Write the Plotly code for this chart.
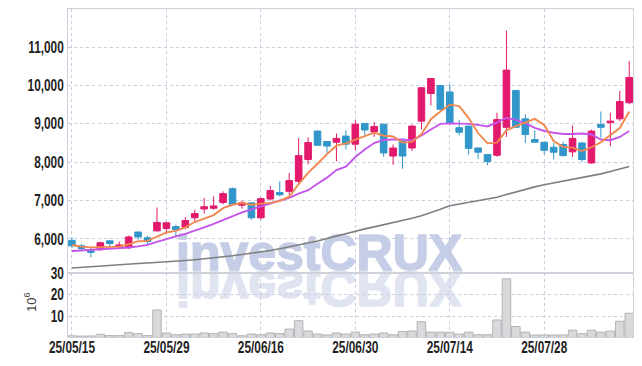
import plotly.graph_objects as go

# ---------------- data ----------------
dates = [
    "2025-05-15", "2025-05-16", "2025-05-19", "2025-05-20", "2025-05-21", "2025-05-22", "2025-05-23",
    "2025-05-26", "2025-05-27", "2025-05-28", "2025-05-29", "2025-05-30", "2025-06-02", "2025-06-04",
    "2025-06-05", "2025-06-09", "2025-06-10", "2025-06-11", "2025-06-12", "2025-06-13", "2025-06-16",
    "2025-06-17", "2025-06-18", "2025-06-19", "2025-06-20", "2025-06-23", "2025-06-24", "2025-06-25",
    "2025-06-26", "2025-06-27", "2025-06-30", "2025-07-01", "2025-07-02", "2025-07-03", "2025-07-04",
    "2025-07-07", "2025-07-08", "2025-07-09", "2025-07-10", "2025-07-11", "2025-07-14", "2025-07-15",
    "2025-07-16", "2025-07-17", "2025-07-18", "2025-07-21", "2025-07-22", "2025-07-23", "2025-07-24",
    "2025-07-25", "2025-07-28", "2025-07-29", "2025-07-30", "2025-07-31", "2025-08-01", "2025-08-04",
    "2025-08-05", "2025-08-06", "2025-08-07", "2025-08-08",
]

open_ = [5960, 5820, 5690, 5720, 5950, 5810, 5770, 6180, 6030, 6210,
         6270, 6320, 6300, 6550, 6780, 6800, 6950, 7310, 6880, 6940,
         6550, 7040, 7210, 7240, 7500, 8070, 8810, 8540, 8520, 8680,
         8470, 9010, 8790, 8990, 8160, 8550, 8370, 9070, 9790, 10000,
         9830, 8900, 8940, 8370, 8200, 8180, 8910, 9870, 9130, 8590,
         8520, 8390, 8460, 8270, 8500, 7980, 8980, 9030, 9130, 9550]
high = [6030, 5870, 5770, 5930, 5960, 5930, 6090, 6190, 6080, 6820,
        6440, 6370, 6570, 6760, 7070, 7110, 7240, 7340, 7000, 6950,
        7080, 7390, 7500, 7720, 8630, 8650, 8830, 8550, 8750, 8830,
        9100, 9020, 9050, 9000, 8460, 8610, 8980, 9950, 10190, 10010,
        10030, 9100, 8950, 8380, 8210, 9290, 11430, 9880, 9250, 8830,
        8530, 8500, 8530, 8960, 8530, 8850, 9320, 9290, 9860, 10630]
low = [5760, 5690, 5520, 5690, 5800, 5760, 5740, 5980, 5870, 6190,
       6120, 6060, 6250, 6450, 6660, 6760, 6900, 6890, 6790, 6500,
       6500, 7000, 7110, 7150, 7460, 7940, 8430, 8240, 8020, 8330,
       8310, 8700, 8660, 8140, 7930, 7830, 8290, 8850, 9480, 9370,
       9020, 8700, 8200, 8090, 7920, 8140, 8660, 8900, 8500, 8510,
       8200, 8070, 8150, 8140, 8000, 7960, 8640, 8420, 9070, 9510]
close = [5820, 5750, 5650, 5900, 5880, 5840, 6050, 6050, 5930, 6430,
         6420, 6240, 6480, 6660, 6840, 6860, 7180, 6900, 6940, 6550,
         7050, 7260, 7150, 7520, 8170, 8510, 8440, 8420, 8620, 8470,
         8990, 8840, 8930, 8240, 8370, 8160, 8940, 9940, 10180, 9380,
         9030, 8780, 8360, 8260, 8020, 9110, 10400, 8910, 8720, 8520,
         8310, 8260, 8170, 8620, 8070, 8810, 8910, 9070, 9580, 10210]

ma_short = [5840, 5800, 5780, 5790, 5800, 5800, 5860, 5940, 5950, 6060,
            6170, 6210, 6300, 6440, 6530, 6620, 6800, 6890, 6940, 6890,
            6920, 6940, 6990, 7100, 7430, 7720, 7960, 8210, 8430, 8490,
            8590, 8670, 8770, 8690, 8670, 8510, 8530, 8730, 9120, 9320,
            9500, 9460, 9150, 8760, 8490, 8510, 8830, 8940, 9040, 9130,
            8970, 8550, 8400, 8380, 8290, 8390, 8520, 8700, 8890, 9320]
ma_mid = [5686, 5700, 5712, 5730, 5750, 5764, 5777, 5804, 5843, 5921,
          6000, 6065, 6131, 6209, 6301, 6393, 6497, 6602, 6694, 6772,
          6851, 6929, 6995, 7073, 7178, 7270, 7440, 7597, 7793, 7885,
          8134, 8330, 8500, 8579, 8592, 8592, 8566, 8697, 8853, 8998,
          9011, 9011, 8998, 8971, 8932, 9037, 9155, 9102, 9011, 8893,
          8814, 8767, 8736, 8736, 8749, 8723, 8592, 8574, 8657, 8814]
ma_long = [5240, 5259, 5277, 5293, 5311, 5332, 5345, 5359, 5372, 5385,
           5398, 5416, 5437, 5458, 5479, 5503, 5529, 5560, 5592, 5623,
           5660, 5699, 5743, 5791, 5835, 5882, 5948, 6013, 6079, 6144,
           6209, 6262, 6314, 6367, 6419, 6471, 6537, 6602, 6681, 6772,
           6864, 6908, 6953, 6997, 7042, 7086, 7157, 7228, 7296, 7356,
           7414, 7458, 7503, 7547, 7592, 7636, 7696, 7757, 7820, 7885]

volume = [1.0, 0.9, 0.9, 1.7, 1.1, 1.1, 2.5, 2.0, 1.1, 12.9,
          2.3, 1.5, 1.8, 1.8, 2.3, 2.0, 2.7, 2.0, 1.0, 1.8,
          1.5, 2.3, 2.0, 4.1, 8.0, 3.2, 1.8, 1.4, 2.3, 1.8,
          2.7, 1.5, 1.8, 2.3, 1.5, 3.0, 3.2, 7.5, 2.7, 2.7,
          2.6, 1.8, 2.7, 1.5, 1.5, 8.3, 27.3, 5.3, 2.7, 1.4,
          1.4, 1.4, 1.4, 3.6, 2.0, 3.6, 2.7, 3.2, 7.7, 11.4]

tick_dates = ["2025-05-15", "2025-05-29", "2025-06-16", "2025-06-30", "2025-07-14", "2025-07-28"]
tick_labels = ["25/05/15", "25/05/29", "25/06/16", "25/06/30", "25/07/14", "25/07/28"]
price_ticks = [6000, 7000, 8000, 9000, 10000, 11000]
volume_ticks = [10, 20, 30]

# ---------------- styling ----------------
RED = "#e2196c"
BLUE = "#3196c9"
GRID = "#c9cde0"
FRAME = "#cfd1da"
TICKFONT = dict(family="Liberation Sans, Arial", size=16, color="#1e1e1e", weight="bold")

fig = go.Figure()

fig.add_trace(go.Candlestick(
    x=dates, open=open_, high=high, low=low, close=close,
    increasing=dict(line=dict(color=RED, width=1), fillcolor=RED),
    decreasing=dict(line=dict(color=BLUE, width=1), fillcolor=BLUE),
    whiskerwidth=0, hoverinfo="skip", xaxis="x", yaxis="y", showlegend=False))

fig.add_trace(go.Scatter(x=dates, y=ma_long, mode="lines", line=dict(color="#7f7f7f", width=1.6),
                         hoverinfo="skip", xaxis="x", yaxis="y", showlegend=False))
fig.add_trace(go.Scatter(x=dates, y=ma_mid, mode="lines", line=dict(color="#c455ea", width=1.9),
                         hoverinfo="skip", xaxis="x", yaxis="y", showlegend=False))
fig.add_trace(go.Scatter(x=dates, y=ma_short, mode="lines", line=dict(color="#f0884f", width=1.9),
                         hoverinfo="skip", xaxis="x", yaxis="y", showlegend=False))

fig.add_trace(go.Bar(x=dates, y=volume, xaxis="x2", yaxis="y2",
                     marker=dict(color="#d9d9db", line=dict(color="#b3b3b8", width=1)),
                     hoverinfo="skip", showlegend=False))

split = 0.1953
xcommon = dict(type="category", tickvals=tick_dates, showgrid=True, gridcolor=GRID, griddash="dot",
               gridwidth=1, showline=True, mirror=True, linecolor=FRAME, linewidth=1, ticks="",
               range=[-0.42, 59.4], fixedrange=True, automargin=False)

fig.update_layout(
    width=642, height=366,
    margin=dict(l=68, r=9, t=9, b=29, autoexpand=False),
    paper_bgcolor="white", plot_bgcolor="rgba(0,0,0,0)",
    bargap=0.1, boxgap=0.3, boxgroupgap=0, showlegend=False,
    xaxis=dict(**xcommon, anchor="y", showticklabels=False, rangeslider=dict(visible=False)),
    xaxis2=dict(**xcommon, anchor="y2", matches="x", ticktext=tick_labels, tickfont=TICKFONT,
                rangeslider=dict(visible=False)),
    yaxis=dict(domain=[split, 1], range=[5113, 11993], tickvals=price_ticks, tickformat=",d",
               showgrid=True, gridcolor=GRID, griddash="dot", showline=True, mirror=True,
               linecolor=FRAME, tickfont=TICKFONT, ticks="", zeroline=False, fixedrange=True,
               automargin=False),
    yaxis2=dict(domain=[0, split], range=[0.45, 30], tickvals=volume_ticks,
                showgrid=True, gridcolor=GRID, griddash="dot", showline=True, mirror=True,
                linecolor=FRAME, tickfont=TICKFONT, ticks="", zeroline=False, fixedrange=True,
                automargin=False),
    annotations=[
        dict(text="investCRUX", xref="paper", yref="paper", x=0.444, y=0.164,
             xanchor="center", yanchor="bottom", showarrow=False,
             font=dict(family="Liberation Sans, Arial", size=50, color="#c6cde6", weight="bold")),
        dict(text="10<sup>6</sup>", xref="paper", yref="paper", x=-0.066, y=0.106,
             xanchor="center", yanchor="middle", showarrow=False, textangle=-90,
             font=dict(family="Liberation Sans, Arial", size=13, color="#444444")),
    ],
)

try:
    fig.layout.xaxis2.ticklabelstandoff = -4
except Exception:
    pass

js = """
(function(){
  document.body.style.margin = '0';
  document.body.style.padding = '0';
  var gd = document.getElementById('{plot_id}');
  if(!gd) return;
  // condensed look for tick labels
  gd.querySelectorAll('g.xtick text, g.ytick text, g.x2tick text, g.y2tick text').forEach(function(t){
    var L = t.getComputedTextLength();
    if(L > 0){
      t.setAttribute('textLength', (L * 0.74).toFixed(2));
      t.setAttribute('lengthAdjust', 'spacingAndGlyphs');
    }
  });
  var svg = gd.querySelector('svg.main-svg');
  var target = null;
  gd.querySelectorAll('g.annotation').forEach(function(a){
    if(a.textContent.trim() === 'investCRUX') target = a;
  });
  if(!target || !svg) return;
  var sr = svg.getBoundingClientRect();
  var t = target.querySelector('text');
  var r = t.getBoundingClientRect();
  var yb = r.top - sr.top + 0.81 * r.height;
  // heavier strokes, like the original watermark
  t.style.stroke = '#c6cde6';
  t.style.strokeWidth = '1.6px';
  t.style.strokeLinejoin = 'round';
  var ns = 'http://www.w3.org/2000/svg';
  var wm = document.createElementNS(ns, 'g');
  var refl = document.createElementNS(ns, 'g');
  var clone = target.cloneNode(true);
  refl.appendChild(clone);
  refl.setAttribute('transform', 'translate(0,' + (2 * yb) + ') scale(1,-1)');
  var ct = clone.querySelector('text');
  ct.style.fill = '#e0e4f0';
  ct.style.stroke = '#e0e4f0';
  wm.appendChild(refl);
  wm.appendChild(target);
  var cl = svg.querySelector('.cartesianlayer');
  svg.insertBefore(wm, cl);
})();
"""

fig.write_html("out.html", post_script=js, config={"displayModeBar": False, "staticPlot": True})
